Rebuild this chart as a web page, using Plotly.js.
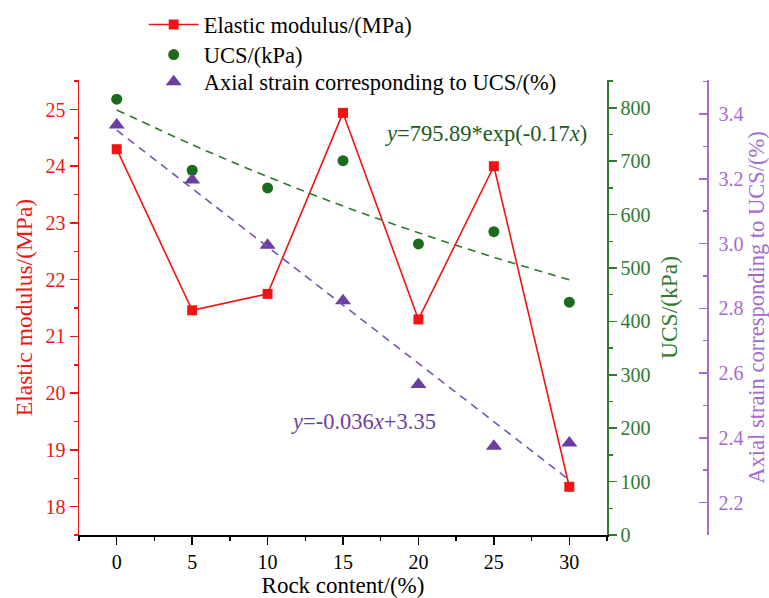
<!DOCTYPE html>
<html>
<head>
<meta charset="utf-8">
<script src="https://cdn.plot.ly/plotly-3.0.1.min.js"></script>
<style>html,body{margin:0;padding:0;background:#fff;}#chart{width:769px;height:598px;}</style>
</head>
<body>
<div id="chart"></div>
<script>
// Data
const rockContent = [0, 5, 10, 15, 20, 25, 30];
const elasticModulus = [24.3, 21.46, 21.75, 24.94, 21.3, 24.0, 18.35];
const ucs = [816, 683, 650, 701, 545, 568, 436];
const axialStrain = [3.366, 3.196, 2.995, 2.823, 2.565, 2.374, 2.384];
// Fitted trend lines as drawn in the reference
const ucsFitX = [0, 5, 10, 15, 20, 25, 30];
const ucsFitY = [796, 731, 671, 616, 566, 520, 478];
const strainFitX = [0, 30];
const strainFitY = [3.35, 2.27];
const xTickVals = [0, 5, 10, 15, 20, 25, 30];

const FONT = 'Liberation Serif, Times New Roman, serif';
const RED = '#f01414';
const GREEN = '#1d6b1d';
const GREEN_AX = '#2f7a2f';
const PURPLE = '#6b3fa0';
const PURPLE_AX = '#a46bcf';

const traces = [
  {
    x: rockContent, y: elasticModulus, name: 'Elastic modulus/(MPa)',
    mode: 'lines+markers', yaxis: 'y', legend: 'legend',
    line: {color: RED, width: 1.6},
    marker: {symbol: 'square', size: 10, color: RED}
  },
  {
    x: rockContent, y: ucs, name: 'UCS/(kPa)',
    mode: 'markers', yaxis: 'y2', legend: 'legend2',
    marker: {symbol: 'circle', size: 11, color: GREEN}
  },
  {
    x: rockContent, y: axialStrain, name: 'Axial strain corresponding to UCS/(%)',
    mode: 'markers', yaxis: 'y3', legend: 'legend3',
    marker: {symbol: 'triangle-up', size: 14, color: PURPLE}
  },
  {
    x: ucsFitX, y: ucsFitY, mode: 'lines', yaxis: 'y2', showlegend: false,
    line: {color: '#2a7a2a', width: 1.6, dash: '8px,6px', shape: 'spline'}
  },
  {
    x: strainFitX, y: strainFitY, mode: 'lines', yaxis: 'y3', showlegend: false,
    line: {color: '#7b50b8', width: 1.6, dash: '8px,6px'}
  }
];

function legendAt(yPaper) {
  return {
    x: 0.103, y: yPaper, xanchor: 'left', yanchor: 'middle',
    bgcolor: 'rgba(0,0,0,0)', borderwidth: 0,
    font: {family: FONT, size: 22.5, color: '#000'},
    itemwidth: 50
  };
}

const layout = {
  width: 769, height: 598,
  paper_bgcolor: '#ffffff', plot_bgcolor: '#ffffff',
  margin: {l: 79, r: 62, t: 80, b: 63, autoexpand: false},
  font: {family: FONT, size: 20, color: '#000'},
  showlegend: true,
  legend: legendAt(1.121),
  legend2: legendAt(1.055),
  legend3: legendAt(0.9956),
  xaxis: {
    domain: [0, 0.8408], range: [-2.5, 32.5],
    tickvals: xTickVals, ticks: 'outside', ticklen: 8, tickwidth: 1.5, tickcolor: '#000',
    minor: {dtick: 2.5, tick0: 0, ticks: 'outside', ticklen: 4, tickwidth: 1.5, tickcolor: '#000'},
    showline: true, linecolor: '#000', linewidth: 1.5,
    showgrid: false, zeroline: false,
    tickfont: {family: FONT, size: 20, color: '#000'},
    title: {text: 'Rock content/(%)', font: {family: FONT, size: 23, color: '#000'}, standoff: 6}
  },
  yaxis: {
    range: [17.5, 25.52], dtick: 1, tick0: 0,
    ticks: 'outside', ticklen: 8, tickwidth: 1.5, tickcolor: RED,
    minor: {dtick: 0.5, ticks: 'outside', ticklen: 4, tickwidth: 1.5, tickcolor: RED},
    showline: true, linecolor: RED, linewidth: 1.5,
    showgrid: false, zeroline: false,
    tickfont: {family: FONT, size: 20, color: RED},
    title: {text: 'Elastic modulus/(MPa)', font: {family: FONT, size: 23.5, color: RED}, standoff: 6}
  },
  yaxis2: {
    overlaying: 'y', side: 'right', anchor: 'x',
    range: [0, 852], dtick: 100, tick0: 0,
    ticks: 'outside', ticklen: 8, tickwidth: 1.5, tickcolor: GREEN_AX,
    minor: {dtick: 50, ticks: 'outside', ticklen: 4, tickwidth: 1.5, tickcolor: GREEN_AX},
    showline: true, linecolor: GREEN_AX, linewidth: 1.5,
    showgrid: false, zeroline: false,
    tickfont: {family: FONT, size: 20, color: GREEN_AX},
    title: {text: 'UCS/(kPa)', font: {family: FONT, size: 23.5, color: GREEN_AX}, standoff: 11}
  },
  yaxis3: {
    overlaying: 'y', side: 'right', anchor: 'free', position: 1,
    range: [2.1, 3.505], dtick: 0.2, tick0: 2.2, tickformat: '.1f',
    ticks: 'inside', ticklen: 8, tickwidth: 1.5, tickcolor: PURPLE_AX,
    ticklabelstandoff: 6,
    minor: {dtick: 0.1, ticks: 'inside', ticklen: 4, tickwidth: 1.5, tickcolor: PURPLE_AX},
    showline: true, linecolor: PURPLE_AX, linewidth: 1.5,
    showgrid: false, zeroline: false,
    tickfont: {family: FONT, size: 20, color: PURPLE_AX},
    title: {text: 'Axial strain corresponding to UCS/(%)', font: {family: FONT, size: 22.5, color: PURPLE_AX}, standoff: 12}
  },
  annotations: [
    {
      xref: 'x', yref: 'y', x: 17.65, y: 24.58, xanchor: 'left', yanchor: 'middle',
      text: '<i>y</i>=795.89*exp(-0.17<i>x</i>)', showarrow: false,
      font: {family: FONT, size: 22.5, color: '#1d5c1d'}
    },
    {
      xref: 'x', yref: 'y', x: 11.4, y: 19.5, xanchor: 'left', yanchor: 'middle',
      text: '<i>y</i>=-0.036<i>x</i>+3.35', showarrow: false,
      font: {family: FONT, size: 22.5, color: PURPLE}
    }
  ]
};

Plotly.newPlot('chart', traces, layout, {displayModeBar: false, staticPlot: true});
</script>
</body>
</html>
